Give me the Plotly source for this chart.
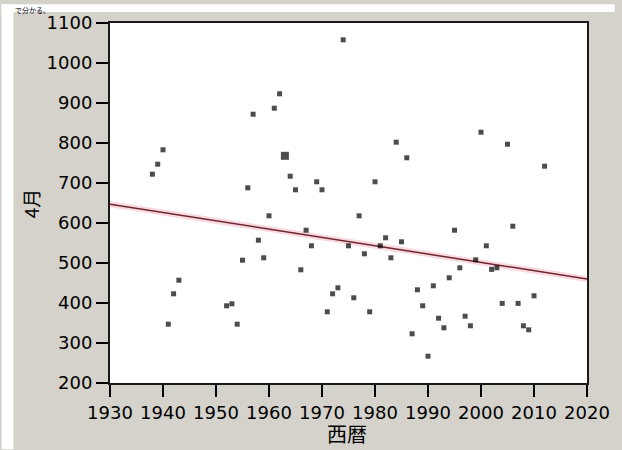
import plotly.graph_objects as go

# April values by year (西暦)
years = [1938, 1939, 1940, 1941, 1942, 1943, 1952, 1953, 1954, 1955,
         1956, 1957, 1958, 1959, 1960, 1961, 1962, 1963, 1964, 1965,
         1966, 1967, 1968, 1969, 1970, 1971, 1972, 1973, 1974, 1975,
         1976, 1977, 1978, 1979, 1980, 1981, 1982, 1983, 1984, 1985,
         1986, 1987, 1988, 1989, 1990, 1991, 1992, 1993, 1994, 1995,
         1996, 1997, 1998, 1999, 2000, 2001, 2002, 2003, 2004, 2005,
         2006, 2007, 2008, 2009, 2010, 2012]
april = [722, 747, 783, 347, 423, 457, 393, 398, 347, 507,
         688, 872, 557, 513, 618, 887, 923, 768, 717, 683,
         483, 582, 543, 703, 683, 378, 423, 438, 1058, 543,
         413, 618, 523, 378, 703, 543, 563, 513, 802, 553,
         763, 323, 433, 393, 267, 443, 362, 338, 463, 582,
         488, 367, 343, 508, 827, 543, 484, 488, 399, 797,
         592, 399, 343, 333, 418, 742]

# Linear trend line end points
trend_years = [1930, 2020]
trend_values = [647, 460]

x_ticks = [1930, 1940, 1950, 1960, 1970, 1980, 1990, 2000, 2010, 2020]
y_ticks = [200, 300, 400, 500, 600, 700, 800, 900, 1000, 1100]

highlight_years = [1963]

W, H = 622, 450
L, R, T, B = 110, 594, 19, 383  # plot area edges in pixels


def px(xp):
    return (xp - L) / (R - L)


def py(yp):
    return (B - yp) / (B - T)


sizes = [8 if y in highlight_years else 5 for y in years]

fig = go.Figure()

# soft halo under the trend line
fig.add_trace(go.Scatter(
    x=trend_years, y=trend_values, mode="lines",
    line=dict(color="rgba(235,150,165,0.35)", width=6),
    hoverinfo="skip", showlegend=False))
fig.add_trace(go.Scatter(
    x=trend_years, y=trend_values, mode="lines",
    line=dict(color="#6e2633", width=1.5),
    hoverinfo="skip", showlegend=False))

fig.add_trace(go.Scatter(
    x=years, y=april, mode="markers",
    marker=dict(symbol="square", size=sizes, color="black",
                line=dict(width=0)),
    showlegend=False))

tick_font = dict(family="DejaVu Sans, sans-serif", size=18, color="black")

fig.update_xaxes(
    range=[1930, 2020], tickvals=x_ticks, ticktext=[str(v) for v in x_ticks],
    tickangle=0, ticks="outside", ticklen=12, tickwidth=1.5, tickcolor="black",
    showline=True, linecolor="#1a1a1a", linewidth=2, mirror=True,
    showgrid=False, zeroline=False, tickfont=tick_font)
fig.update_yaxes(
    range=[200, 1100], tickvals=y_ticks, ticktext=[str(v) for v in y_ticks],
    ticks="outside", ticklen=12, tickwidth=1.5, tickcolor="black",
    showline=True, linecolor="#1a1a1a", linewidth=2, mirror=True,
    showgrid=False, zeroline=False, tickfont=tick_font)

cjk = "Noto Sans CJK JP, sans-serif"

fig.update_layout(
    width=W, height=H,
    margin=dict(l=L, r=W - R, t=T, b=H - B, pad=0),
    paper_bgcolor="#d5d2cb",
    plot_bgcolor="white",
    font=dict(family=cjk, color="black"),
    shapes=[
        # white page strips outside the grey panel
        dict(type="rect", xref="paper", yref="paper",
             x0=px(0), x1=px(12), y0=py(H), y1=py(0),
             fillcolor="white", line=dict(width=0), layer="below"),
        dict(type="rect", xref="paper", yref="paper",
             x0=px(0), x1=px(W), y0=py(8), y1=py(0),
             fillcolor="white", line=dict(width=0), layer="below"),
    ],
    annotations=[
        dict(text="西暦", xref="paper", yref="paper",
             x=px(350), y=py(434), xanchor="center", yanchor="middle",
             showarrow=False, font=dict(family=cjk, size=20, color="black")),
        dict(text="4月", xref="paper", yref="paper", textangle=-90,
             x=px(29), y=py(201), xanchor="center", yanchor="middle",
             showarrow=False, font=dict(family=cjk, size=19, color="black")),
        dict(text="で分かる。", xref="paper", yref="paper",
             x=px(13), y=py(0), xanchor="left", yanchor="top",
             borderpad=0,
             showarrow=False, font=dict(family=cjk, size=7, color="black")),
    ],
)

fig.write_html("out.html")
